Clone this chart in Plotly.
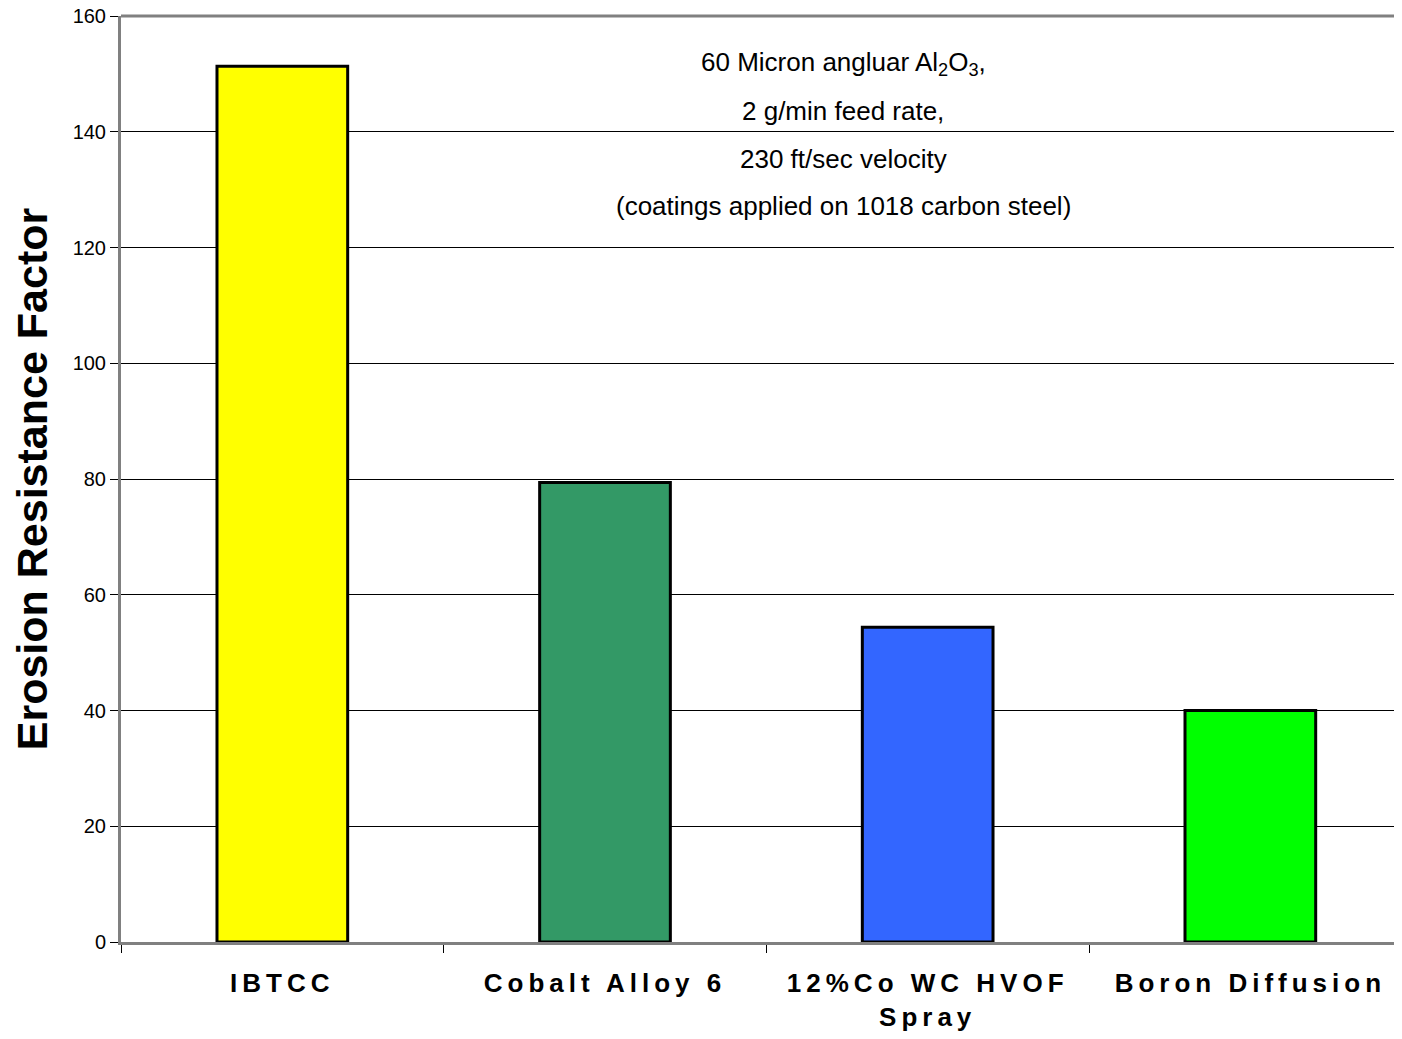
import plotly.graph_objects as go

coatings = ["IBTCC", "Cobalt Alloy 6", "12%Co WC HVOF<br>Spray", "Boron Diffusion"]
erosion_factor = [151.3, 79.4, 54.4, 40.0]
bar_colors = ["#FFFF00", "#339966", "#3366FF", "#00FF00"]
y_ticks = [0, 20, 40, 60, 80, 100, 120, 140, 160]
note_lines = [
    "60 Micron angluar Al<sub>2</sub>O<sub>3</sub>,",
    "2 g/min feed rate,",
    "230 ft/sec velocity",
    "(coatings applied on 1018 carbon steel)",
]

sp = '<span style="letter-spacing:5px">'
spaced = [sp + c.replace("<br>", "</span><br>" + sp) + "</span>" for c in coatings]

fig = go.Figure(go.Bar(
    x=coatings, y=erosion_factor,
    marker=dict(color=bar_colors, line=dict(color="black", width=3)),
    width=0.405,
))

for i, txt in enumerate(note_lines):
    fig.add_annotation(text=txt, xref="paper", yref="paper", x=0.564, y=0.949 - i * 0.0515,
                       xanchor="center", yanchor="middle",
                       showarrow=False, font=dict(size=26, color="black"))

# top frame line
fig.add_shape(type="line", xref="paper", yref="paper", x0=0, x1=1, y0=1, y1=1,
              line=dict(color="#808080", width=3))

fig.update_xaxes(type="category", range=[-0.5, 3.47], tickmode="array", tickvals=coatings,
                 ticktext=spaced, tickson="boundaries", ticks="outside", ticklen=8,
                 tickcolor="black", showline=True, linecolor="#808080", linewidth=3,
                 showgrid=False, automargin=False,
                 tickfont=dict(family="Liberation Sans", size=26, color="black", weight="bold"),
                 ticklabelstandoff=16)
fig.update_yaxes(range=[0, 160], tickvals=y_ticks, ticks="outside", ticklen=8,
                 tickcolor="black", showline=True, linecolor="#808080", linewidth=3,
                 showgrid=True, gridcolor="black", gridwidth=1, zeroline=False,
                 ticklabeloverflow="allow", automargin=False,
                 tickfont=dict(family="Liberation Sans", size=20, color="black"),
                 title=dict(text="<b>Erosion Resistance Factor</b>", standoff=20,
                            font=dict(family="Liberation Sans", size=43, color="black")))

fig.update_layout(width=1394, height=1023, margin=dict(l=113, r=0, t=8, b=89),
                  plot_bgcolor="white", paper_bgcolor="white", showlegend=False,
                  font=dict(family="Liberation Sans"))

fig.write_html("out.html")
